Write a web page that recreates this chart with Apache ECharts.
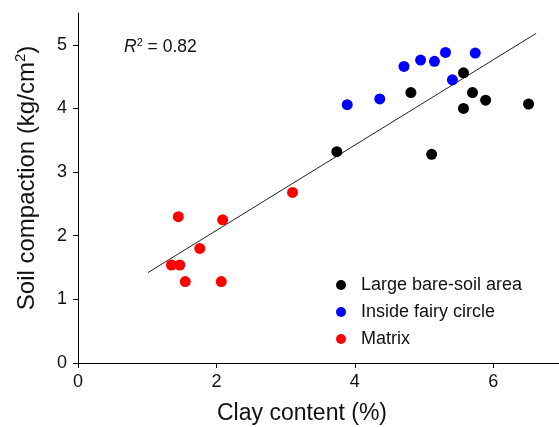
<!DOCTYPE html>
<html>
<head>
<meta charset="utf-8">
<script src="https://cdn.jsdelivr.net/npm/echarts@6/dist/echarts.min.js"></script>
<style>
  html, body { margin: 0; padding: 0; background: #fff; }
  #chart { width: 559px; height: 427px; }
</style>
</head>
<body>
<div id="chart"></div>
<script>
// 读图得到的数据 [clay %, compaction]
const bareSoil = [
  [3.74, 3.32], [4.81, 4.25], [5.57, 4.56], [5.70, 4.25],
  [5.57, 4.00], [5.89, 4.13], [6.51, 4.07], [5.11, 3.28]
];
const fairyCircle = [
  [3.89, 4.06], [4.36, 4.15], [4.71, 4.66], [4.95, 4.76],
  [5.15, 4.74], [5.31, 4.88], [5.41, 4.45], [5.74, 4.87]
];
const matrix = [
  [1.45, 2.30], [2.09, 2.25], [3.10, 2.68], [1.76, 1.80],
  [1.35, 1.54], [1.47, 1.54], [1.55, 1.28], [2.07, 1.28]
];
// 回归线两端
const fitLine = [[1.01, 1.42], [6.62, 5.18]];
const xTicks = [0, 2, 4, 6];
const yTicks = [0, 1, 2, 3, 4, 5];

const font = "'Liberation Sans', Arial, sans-serif";
const chart = echarts.init(document.getElementById("chart"));

const option = {
  animation: false,
  textStyle: { fontFamily: font },
  grid: { left: 78, right: 0, top: 13, bottom: 64 },
  xAxis: {
    type: "value",
    min: 0,
    max: 6.95,
    splitLine: { show: false },
    axisLine: { lineStyle: { color: "#000", width: 1 } },
    axisTick: { length: 5, customValues: xTicks, lineStyle: { color: "#000" } },
    axisLabel: { customValues: xTicks, fontSize: 18, color: "#111", margin: 10, fontFamily: font },
  },
  yAxis: {
    type: "value",
    min: 0,
    max: 5.5,
    splitLine: { show: false },
    axisLine: { show: true, lineStyle: { color: "#000", width: 1 } },
    axisTick: { show: true, length: 5, customValues: yTicks, lineStyle: { color: "#000" } },
    axisLabel: { customValues: yTicks, fontSize: 18, color: "#111", margin: 11, fontFamily: font },
  },
  legend: {
    orient: "vertical",
    left: 336,
    top: 276,
    padding: 0,
    icon: "circle",
    itemWidth: 10,
    itemHeight: 10,
    itemGap: 9,
    itemStyle: { opacity: 1 },
    textStyle: { fontSize: 18, lineHeight: 18, color: "#111", fontFamily: font, padding: [0, 0, 0, 10] },
    data: ["Large bare-soil area", "Inside fairy circle", "Matrix"],
  },
  graphic: [
    {
      type: "text",
      left: 124,
      top: 37,
      style: {
        text: "{r|R}{s|2}{n| = 0.82}",
        rich: {
          r: { fontSize: 17.5, fontStyle: "italic", fontFamily: font, fill: "#111", lineHeight: 20 },
          s: { fontSize: 11, fontFamily: font, fill: "#111", verticalAlign: "top", lineHeight: 11 },
          n: { fontSize: 17.5, fontFamily: font, fill: "#111", lineHeight: 20 },
        },
      },
    },
    {
      type: "text",
      x: 302,
      y: 414,
      style: {
        text: "Clay content (%)",
        fontSize: 23,
        fontFamily: font,
        fill: "#111",
        align: "center",
        verticalAlign: "middle",
      },
    },
    {
      type: "text",
      x: 27,
      y: 178,
      rotation: Math.PI / 2,
      style: {
        text: "{a|Soil compaction (kg/cm}{s|2}{a|)}",
        align: "center",
        verticalAlign: "middle",
        rich: {
          a: { fontSize: 24, fontFamily: font, fill: "#111", lineHeight: 28 },
          s: { fontSize: 15, fontFamily: font, fill: "#111", verticalAlign: "top", lineHeight: 15 },
        },
      },
    },
  ],
  series: [
    {
      name: "fit",
      type: "line",
      data: fitLine,
      symbol: "none",
      lineStyle: { color: "#222", width: 1 },
      silent: true,
      z: 1,
    },
    {
      name: "Large bare-soil area",
      type: "scatter",
      data: bareSoil,
      symbolSize: 11,
      itemStyle: { color: "#000", opacity: 1 },
      z: 3,
    },
    {
      name: "Inside fairy circle",
      type: "scatter",
      data: fairyCircle,
      symbolSize: 11,
      itemStyle: { color: "#0000ff", opacity: 1 },
      z: 3,
    },
    {
      name: "Matrix",
      type: "scatter",
      data: matrix,
      symbolSize: 11,
      itemStyle: { color: "#ff0000", opacity: 1 },
      z: 3,
    },
  ],
};

chart.setOption(option);
</script>
</body>
</html>
